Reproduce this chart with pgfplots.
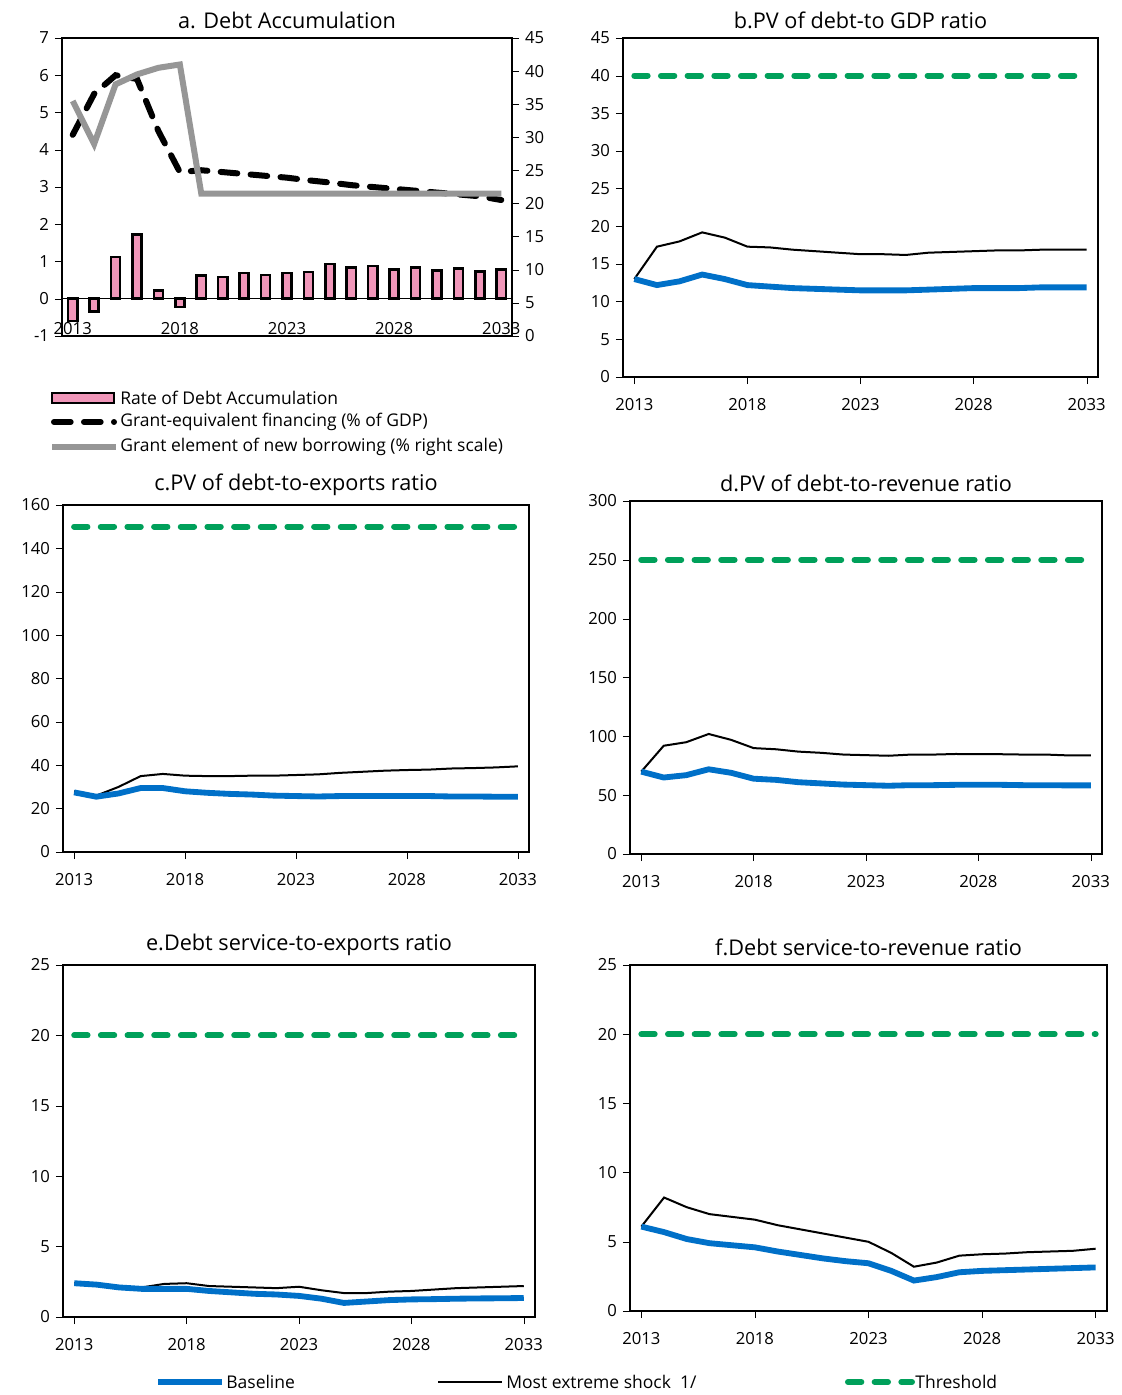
\documentclass[border=0pt]{standalone}
\usepackage{pgfplots}
\pgfplotsset{compat=1.18}
\usepackage{fontspec}
\setmainfont{Open Sans}
\definecolor{thrc}{RGB}{0,160,90}
\definecolor{basc}{RGB}{0,112,200}
\definecolor{grc}{RGB}{150,150,150}
\definecolor{bpink}{RGB}{240,150,185}
\tikzset{
 thrline/.style={color=thrc, line width=3.6pt, line cap=round, dash pattern=on 8pt off 8pt},
 basline/.style={color=basc, line width=3.5pt},
 shkline/.style={color=black, line width=1.2pt},
}
\pgfplotsset{
 every axis/.append style={scale only axis, /pgf/number format/assume math mode=true,
  tick label style={font=\fontsize{10}{12}\selectfont}, title style={font=\fontsize{13}{15}\selectfont, yshift=-4pt},
  tick align=outside, xmin=2012.5, xmax=2033.5, xtick={2013,2018,2023,2028,2033},
  xticklabel style={/pgf/number format/1000 sep={}}, ytick style={black}, xtick style={black},
  axis line style={line width=0.8pt}},
}
\newcommand\panel[9]{% x y w h title ymax ytick thr data
\begin{axis}[at={(#1*0.6pt,-#2*0.6pt)}, anchor=north west, width=#3*0.6pt, height=#4*0.6pt,
  title={#5}, ymin=0, ymax=#6, ytick={#7}, xtick pos=bottom, ytick pos=left,
  xticklabel style={yshift=-5pt}]
\addplot[thrline] coordinates {(2013,#8) (2033,#8)};
\addplot[shkline] table[x=yr,y=s] {#9};
\addplot[basline] table[x=yr,y=b] {#9};
\end{axis}}
\pgfplotstableread{
yr b s
2013 13.0 13.0
2014 12.2 17.3
2015 12.7 18.0
2016 13.6 19.2
2017 13.0 18.5
2018 12.2 17.3
2019 12.0 17.2
2020 11.8 16.9
2021 11.7 16.7
2022 11.6 16.5
2023 11.5 16.3
2024 11.5 16.3
2025 11.5 16.2
2026 11.6 16.5
2027 11.7 16.6
2028 11.8 16.7
2029 11.8 16.8
2030 11.8 16.8
2031 11.9 16.9
2032 11.9 16.9
2033 11.9 16.9
}\tb
\pgfplotstableread{
yr b s
2013 27.5 28.0
2014 25.5 26.0
2015 27.0 30.0
2016 29.5 35.0
2017 29.5 36.0
2018 28.0 35.2
2019 27.3 35.0
2020 26.8 35.0
2021 26.5 35.2
2022 26.0 35.2
2023 25.8 35.5
2024 25.6 35.8
2025 25.8 36.5
2026 25.8 37.0
2027 25.8 37.5
2028 25.8 37.8
2029 25.8 38.0
2030 25.6 38.5
2031 25.6 38.7
2032 25.5 39.0
2033 25.5 39.5
}\tc
\pgfplotstableread{
yr b s
2013 70 70
2014 65 92
2015 67 95
2016 72 102
2017 69 97
2018 64 90
2019 63 89
2020 61 87
2021 60 86
2022 59 84.5
2023 58.5 84
2024 58 83.5
2025 58.5 84.5
2026 58.5 84.5
2027 58.8 85
2028 58.8 84.8
2029 58.8 84.8
2030 58.5 84.5
2031 58.5 84.5
2032 58.3 83.8
2033 58.3 83.8
}\td
\pgfplotstableread{
yr b s
2013 2.4 2.4
2014 2.3 2.35
2015 2.1 2.15
2016 2.0 2.1
2017 2.0 2.35
2018 2.0 2.4
2019 1.85 2.2
2020 1.75 2.15
2021 1.65 2.1
2022 1.6 2.05
2023 1.5 2.15
2024 1.3 1.9
2025 1.0 1.7
2026 1.1 1.7
2027 1.2 1.8
2028 1.25 1.85
2029 1.27 1.95
2030 1.3 2.05
2031 1.32 2.1
2032 1.33 2.15
2033 1.35 2.2
}\te
\pgfplotstableread{
yr b s
2013 6.1 6.1
2014 5.7 8.2
2015 5.2 7.5
2016 4.9 7.0
2017 4.75 6.8
2018 4.6 6.6
2019 4.3 6.2
2020 4.05 5.9
2021 3.8 5.6
2022 3.6 5.3
2023 3.45 5.0
2024 2.9 4.2
2025 2.2 3.2
2026 2.45 3.5
2027 2.8 4.0
2028 2.9 4.1
2029 2.95 4.15
2030 3.0 4.25
2031 3.05 4.3
2032 3.1 4.35
2033 3.15 4.5
}\tf
\pgfplotstableread{
yr r g e
2013 -0.6 4.4 35.5
2014 -0.35 5.5 29
2015 1.12 6.0 38
2016 1.72 5.9 39.5
2017 0.22 4.5 40.5
2018 -0.22 3.4 41
2019 0.63 3.45 21.5
2020 0.58 3.4 21.5
2021 0.69 3.35 21.5
2022 0.64 3.3 21.5
2023 0.69 3.25 21.5
2024 0.72 3.18 21.5
2025 0.93 3.12 21.5
2026 0.83 3.05 21.5
2027 0.88 3.0 21.5
2028 0.79 2.95 21.5
2029 0.83 2.9 21.5
2030 0.76 2.85 21.5
2031 0.81 2.8 21.5
2032 0.73 2.75 21.5
2033 0.78 2.65 21.5
}\ta
\begin{document}
\begin{tikzpicture}[x=0.6pt,y=-0.6pt]
\path[use as bounding box] (0,0) rectangle (1122,1395);
% panel a
\begin{axis}[at={(62*0.6pt,-38*0.6pt)}, anchor=north west, width=450*0.6pt, height=298*0.6pt,
  title={a. Debt Accumulation}, ymin=-1, ymax=7, ytick={-1,0,...,7}, ytick pos=left, xtick pos=bottom,
  xticklabel style={yshift=16pt}, xtick style={draw=none}]
\draw[line width=0.8pt] (axis cs:2012.5,0) -- (axis cs:2033.5,0);
\addplot[ybar, bar width=5.5pt, fill=bpink, draw=black, line width=1.6pt] table[x=yr,y=r] {\ta};
\addplot[black, line width=3.6pt, line cap=round, dash pattern=on 10pt off 8pt] table[x=yr,y=g] {\ta};
\end{axis}
\begin{axis}[at={(62*0.6pt,-38*0.6pt)}, anchor=north west, width=450*0.6pt, height=298*0.6pt,
  ymin=0, ymax=45, ytick={0,5,...,45}, axis x line=none, axis y line*=right, ytick pos=right]
\addplot[grc, line width=3.6pt] table[x=yr,y=e] {\ta};
\end{axis}
\draw[line width=1.4pt, fill=bpink] (52,393) rectangle (114,403);
\node[anchor=west, font=\fontsize{10.5}{12}\selectfont, inner sep=0] at (120,398) {Rate of Debt Accumulation};
\draw[black, line width=3.6pt, line cap=round, dash pattern=on 10pt off 8pt] (54,422) -- (114,422);
\node[anchor=west, font=\fontsize{10.5}{12}\selectfont, inner sep=0] at (120,422) {Grant-equivalent financing (\% of GDP)};
\draw[grc, line width=3.6pt] (52,447) -- (116,447);
\node[anchor=west, font=\fontsize{10.5}{12}\selectfont, inner sep=0] at (120,447) {Grant element of new borrowing (\% right scale)};
\panel{623}{38}{475}{339}{b.PV of debt-to GDP ratio}{45}{0,5,...,45}{40}{\tb}
\panel{63}{505}{466}{347}{c.PV of debt-to-exports ratio}{160}{0,20,...,160}{150}{\tc}
\panel{630}{501}{472}{353}{d.PV of debt-to-revenue ratio}{300}{0,50,...,300}{250}{\td}
\panel{63}{965}{472}{352}{e.Debt service-to-exports ratio}{25}{0,5,...,25}{20}{\te}
\panel{630}{965}{477}{346}{f.Debt service-to-revenue ratio}{25}{0,5,...,25}{20}{\tf}
\draw[basline] (158,1382) -- (222,1382);
\node[anchor=west, font=\fontsize{10.5}{12}\selectfont, inner sep=0] at (226,1382) {Baseline};
\draw[shkline] (438,1382) -- (502,1382);
\node[anchor=west, font=\fontsize{10.5}{12}\selectfont, inner sep=0] at (506,1382) {Most extreme shock\ \ 1/};
\draw[thrline] (848,1382) -- (912,1382);
\node[anchor=west, font=\fontsize{10.5}{12}\selectfont, inner sep=0] at (915,1382) {Threshold};
\end{tikzpicture}
\end{document}
